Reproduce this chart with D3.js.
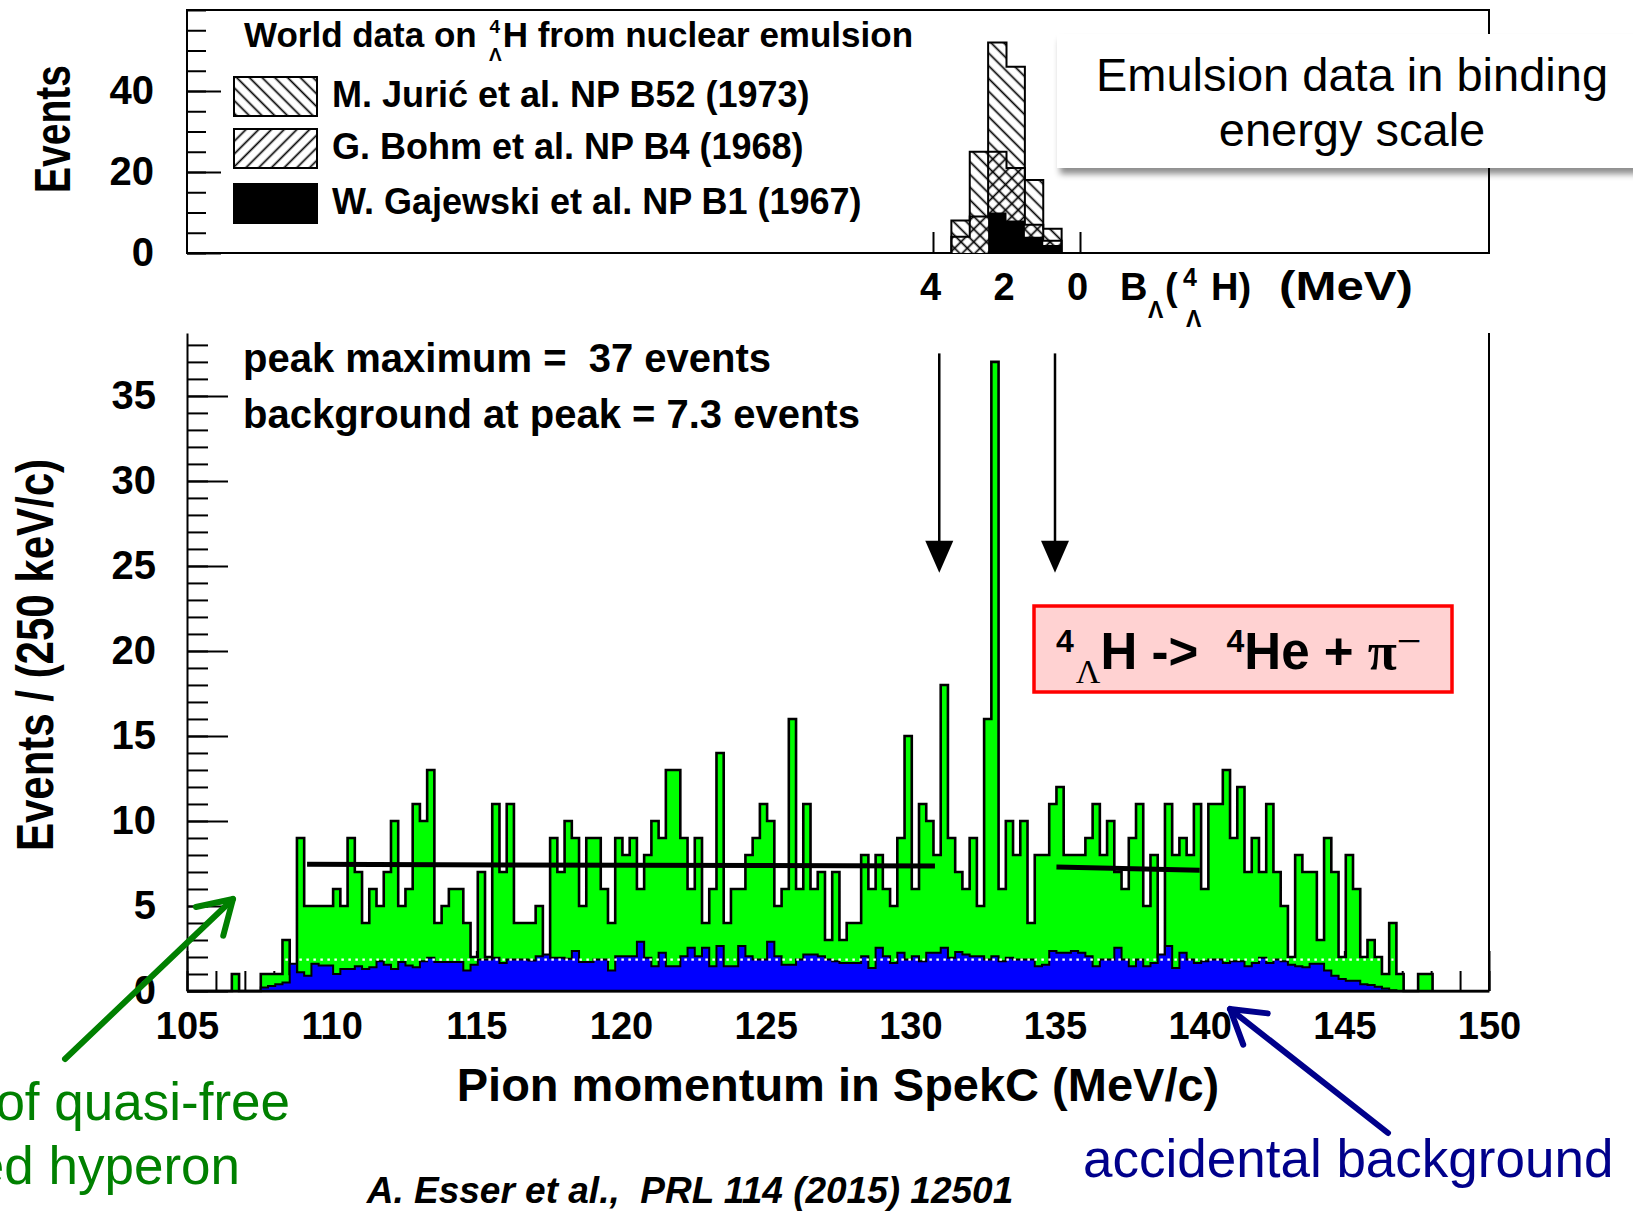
<!DOCTYPE html>
<html>
<head>
<meta charset="utf-8">
<script src="https://cdn.jsdelivr.net/npm/d3@7"></script>
<style>
  html, body { margin: 0; padding: 0; background: #fff; }
  svg { display: block; }
  text { white-space: pre; }
</style>
</head>
<body>
<svg id="chart" width="1633" height="1211"></svg>
<script>
// ---------------- data ----------------
// Pion momentum histogram (0.25 MeV/c bins)
const momentumBinStart = 105.05;
const momentumBinWidth = 0.25;

const eventCounts = [
  0, 0, 0, 0, 0, 0, 1, 0, 0, 0,
  1, 1, 1, 3, 1, 9, 5, 5, 5, 5,
  6, 5, 9, 7, 4, 6, 5, 7, 10, 5,
  6, 11, 10, 13, 4, 5, 6, 6, 4, 2,
  7, 2, 11, 7, 11, 4, 4, 4, 5, 2,
  9, 7, 10, 9, 5, 9, 9, 6, 4, 9,
  8, 9, 6, 8, 10, 9, 13, 13, 9, 6,
  9, 4, 6, 14, 4, 6, 6, 8, 9, 11,
  10, 5, 6, 16, 6, 11, 6, 7, 3, 7,
  3, 4, 4, 8, 6, 8, 6, 5, 9, 15,
  6, 11, 10, 8, 18, 9, 7, 6, 9, 5,
  16, 37, 6, 10, 8, 10, 4, 8, 8, 11,
  12, 8, 8, 8, 9, 11, 8, 10, 7, 6,
  9, 11, 5, 8, 2, 11, 8, 9, 8, 11,
  6, 11, 11, 13, 9, 12, 7, 9, 7, 11,
  7, 5, 2, 8, 7, 7, 3, 9, 7, 2,
  8, 6, 2, 3, 2, 1, 4, 1, 0, 0,
  1, 1
];

const accidentalCounts = [
  0, 0, 0, 0, 0, 0, 0, 0, 0, 0,
  0.2, 0.3, 0.4, 0.5, 1.6, 1.1, 0.9, 1.6, 1.5, 1.5,
  1.0, 1.3, 1.3, 1.45, 1.3, 1.4, 1.75, 1.55, 1.3, 1.7,
  1.5, 1.4, 1.75, 1.95, 1.7, 1.7, 1.7, 1.7, 1.2, 1.55,
  1.85, 1.85, 1.95, 1.65, 1.85, 1.85, 1.85, 1.8, 2.05, 2.15,
  1.95, 1.95, 1.9, 2.35, 1.7, 1.7, 1.85, 1.85, 1.2, 2.05,
  2.05, 2.05, 2.9, 1.95, 1.45, 2.25, 1.45, 1.45, 2.05, 2.55,
  2.05, 2.55, 1.45, 2.65, 1.45, 1.45, 2.65, 2.05, 1.85, 1.85,
  2.9, 2.05, 1.55, 1.55, 1.85, 2.15, 2.15, 2.05, 1.85, 1.75,
  1.65, 1.65, 1.65, 2.05, 1.35, 2.55, 2.05, 1.65, 2.25, 1.85,
  2.05, 1.75, 2.25, 2.25, 2.55, 1.95, 2.3, 2.15, 2.05, 2.05,
  1.85, 2.05, 1.75, 1.95, 1.85, 1.85, 1.85, 1.45, 1.55, 2.35,
  2.25, 2.25, 2.35, 2.25, 2.05, 1.45, 1.85, 1.85, 2.55, 1.85,
  1.45, 1.85, 1.45, 1.65, 2.15, 2.65, 1.35, 2.25, 1.85, 1.65,
  1.75, 1.85, 1.85, 1.65, 1.75, 1.75, 1.45, 1.65, 1.95, 1.65,
  1.85, 1.75, 1.55, 1.45, 1.4, 1.6, 1.6, 1.2, 0.9, 0.7,
  0.6, 0.6, 0.4, 0.35, 0.25, 0.15, 0.05, 0, 0, 0,
  0, 0
];

// flat background fit segments: [momentum, events]
const fitLeft = [[109.15, 7.45], [130.85, 7.35]];
const fitRight = [[135.05, 7.3], [140.0, 7.1]];

// mean accidental level (dotted) and its momentum range
const accidentalLevel = 1.85;
const accidentalRange = [108.4, 146.7];

// window arrows (momentum) and their vertical extent (events)
const windowMomenta = [131.0, 135.0];
const windowArrowSpan = [37.5, 24.6];

// axis ticks
const mainYTicks = [0, 5, 10, 15, 20, 25, 30, 35];
const mainXTicks = [105, 110, 115, 120, 125, 130, 135, 140, 145, 150];

// Emulsion data, binding energy B_Lambda (0.5 MeV bins)
const bindingEdges = [3.5, 3.0, 2.5, 2.0, 1.5, 1.0, 0.5];
const juricCounts = [4, 16, 27, 25, 11, 3];
const bohmCounts = [4, 9, 15, 13, 3, 1];
const gajewskiCounts = [0, 0, 10, 8, 4, 2];
const topYTicks = [0, 20, 40];
const bindingTicks = [4, 2, 0];

const legendLabels = [
  "M. Jurić et al. NP B52 (1973)",
  "G. Bohm et al. NP B4 (1968)",
  "W. Gajewski et al. NP B1 (1967)"
];

// ---------------- setup ----------------
const FONT = "'Liberation Sans', Arial, Helvetica, sans-serif";
const SERIF = "'Liberation Serif', 'Times New Roman', serif";
const svg = d3.select("#chart");
const defs = svg.append("defs");

function hatch(id, angle) {
  const p = defs.append("pattern")
    .attr("id", id)
    .attr("patternUnits", "userSpaceOnUse")
    .attr("width", 9).attr("height", 9)
    .attr("patternTransform", `rotate(${angle})`);
  p.append("line")
    .attr("x1", 4.5).attr("y1", -1).attr("x2", 4.5).attr("y2", 10)
    .attr("stroke", "#000").attr("stroke-width", 1.7);
}
hatch("hatchBack", -45); // "\\\\"
hatch("hatchFwd", 45);   // "////"

const shadow = defs.append("filter").attr("id", "boxShadow")
  .attr("x", "-5%").attr("y", "-10%").attr("width", "115%").attr("height", "140%");
shadow.append("feDropShadow")
  .attr("dx", 3).attr("dy", 6).attr("stdDeviation", 3)
  .attr("flood-color", "#000").attr("flood-opacity", 0.45);

const axisStyle = (g, size) => {
  g.attr("font-size", size).attr("font-family", FONT).attr("font-weight", "bold");
  g.selectAll("line").attr("stroke", "#000").attr("stroke-width", 2);
  g.selectAll("path.domain").attr("stroke", "#000").attr("stroke-width", 2);
  g.selectAll("text").attr("fill", "#000");
};

// step-histogram point list: [edge, value] closed down to zero at both ends
function stepPoints(lefts, values, endEdge) {
  const pts = [[lefts[0], 0]];
  values.forEach((v, i) => pts.push([lefts[i], v]));
  pts.push([endEdge, 0]);
  return pts;
}

// ---------------- main panel ----------------
const x = d3.scaleLinear().domain([105, 150]).range([187, 1489]);
const y = d3.scaleLinear().domain([0, 38.7]).range([991, 333]);

// minor + major ticks (drawn under the histograms)
svg.append("g").attr("transform", `translate(${x(105)},0)`)
  .call(d3.axisLeft(y).tickValues(d3.range(0, 39)).tickSize(-21).tickFormat("").tickSizeOuter(0))
  .call(g => g.select(".domain").remove())
  .call(g => axisStyle(g, 40));
svg.append("g").attr("transform", `translate(${x(105)},0)`)
  .call(d3.axisLeft(y).tickValues(mainYTicks).tickSize(-41).tickPadding(31).tickSizeOuter(0))
  .call(g => axisStyle(g, 40));

svg.append("g").attr("transform", `translate(0,${y(0)})`)
  .call(d3.axisBottom(x).tickValues(d3.range(105, 151)).tickSize(-20).tickFormat("").tickSizeOuter(0))
  .call(g => g.select(".domain").remove())
  .call(g => axisStyle(g, 38));
svg.append("g").attr("transform", `translate(0,${y(0)})`)
  .call(d3.axisBottom(x).tickValues(mainXTicks).tickSize(-40).tickPadding(21).tickSizeOuter(0))
  .call(g => axisStyle(g, 38));

// right frame line
svg.append("line")
  .attr("x1", x(150)).attr("x2", x(150)).attr("y1", y(38.7)).attr("y2", y(0))
  .attr("stroke", "#000").attr("stroke-width", 2);

const lefts = eventCounts.map((_, i) => momentumBinStart + i * momentumBinWidth);
const endEdge = momentumBinStart + eventCounts.length * momentumBinWidth;

const mainArea = d3.area().curve(d3.curveStepAfter)
  .x(d => x(d[0])).y0(y(0)).y1(d => y(d[1]));
const mainLine = d3.line().curve(d3.curveStepAfter)
  .x(d => x(d[0])).y(d => y(d[1]));

const dataPts = stepPoints(lefts, eventCounts, endEdge);
const accPts = stepPoints(lefts, accidentalCounts, endEdge);

svg.append("path").attr("d", mainArea(dataPts)).attr("fill", "#00ff00");
svg.append("path").attr("d", mainLine(dataPts))
  .attr("fill", "none").attr("stroke", "#000").attr("stroke-width", 2.6);

svg.append("path").attr("d", mainArea(accPts)).attr("fill", "#0000ff");
svg.append("path").attr("d", mainLine(accPts))
  .attr("fill", "none").attr("stroke", "#000").attr("stroke-width", 2);

// mean accidental level
svg.append("line")
  .attr("x1", x(accidentalRange[0])).attr("x2", x(accidentalRange[1]))
  .attr("y1", y(accidentalLevel)).attr("y2", y(accidentalLevel))
  .attr("stroke", "#fff").attr("stroke-width", 2.2).attr("stroke-dasharray", "2.5,4.5");

// background fit segments
[fitLeft, fitRight].forEach(seg => {
  svg.append("path")
    .attr("d", d3.line().x(d => x(d[0])).y(d => y(d[1]))(seg))
    .attr("stroke", "#000").attr("stroke-width", 5).attr("fill", "none");
});

// baseline on top
svg.append("line")
  .attr("x1", x(105)).attr("x2", x(150)).attr("y1", y(0)).attr("y2", y(0))
  .attr("stroke", "#000").attr("stroke-width", 2.4);

// window arrows
windowMomenta.forEach(p => {
  const cx = x(p), top = y(windowArrowSpan[0]), tip = y(windowArrowSpan[1]);
  svg.append("line").attr("x1", cx).attr("x2", cx).attr("y1", top).attr("y2", tip - 20)
    .attr("stroke", "#000").attr("stroke-width", 2.5);
  svg.append("path")
    .attr("d", `M${cx - 14},${tip - 32}L${cx + 14},${tip - 32}L${cx},${tip}Z`)
    .attr("fill", "#000");
});

// statistics text
const stats = svg.append("g").attr("font-family", FONT).attr("font-weight", "bold")
  .attr("font-size", 40).attr("fill", "#000");
stats.append("text").attr("x", 243).attr("y", 372).text("peak maximum =  37 events");
stats.append("text").attr("x", 243).attr("y", 428).text("background at peak = 7.3 events");

// axis titles (glyphs slightly stretched across the text line)
svg.append("text")
  .attr("transform", "translate(53,655) rotate(-90) scale(1,1.25)")
  .attr("text-anchor", "middle").attr("font-family", FONT).attr("font-weight", "bold")
  .attr("font-size", 42).text("Events / (250 keV/c)");
svg.append("text")
  .attr("x", 838).attr("y", 1101).attr("text-anchor", "middle")
  .attr("font-family", FONT).attr("font-weight", "bold").attr("font-size", 47)
  .text("Pion momentum in SpekC (MeV/c)");

// reaction box
svg.append("rect").attr("x", 1034).attr("y", 606).attr("width", 418).attr("height", 86)
  .attr("fill", "#ffd2d2").attr("stroke", "#ff0000").attr("stroke-width", 3.5);
const rx = svg.append("text").attr("x", 1056).attr("y", 669)
  .attr("font-family", FONT).attr("font-weight", "bold").attr("font-size", 51).attr("fill", "#000");
rx.append("tspan").attr("font-size", 32).attr("dy", -17).text("4");
rx.append("tspan").attr("font-family", SERIF).attr("font-weight", "normal").attr("font-size", 34).attr("dy", 31).attr("dx", 2).text("Λ");
rx.append("tspan").attr("dy", -14).text("H ->  ");
rx.append("tspan").attr("font-size", 32).attr("dy", -17).text("4");
rx.append("tspan").attr("dy", 17).text("He + ");
rx.append("tspan").attr("font-family", SERIF).attr("font-size", 53).text("π");
rx.append("tspan").attr("font-family", SERIF).attr("font-weight", "normal").attr("font-size", 44).attr("dy", -13).text("−");

// ---------------- top panel (binding energy) ----------------
const xB = d3.scaleLinear().domain([4, 0]).range([933, 1080]);
const yT = d3.scaleLinear().domain([0, 60]).range([253, 10]);

svg.append("g").attr("transform", `translate(${x(105)},0)`)
  .call(d3.axisLeft(yT).tickValues(d3.range(0, 61, 5)).tickSize(-19).tickFormat("").tickSizeOuter(0))
  .call(g => g.select(".domain").remove())
  .call(g => axisStyle(g, 40));
svg.append("g").attr("transform", `translate(${x(105)},0)`)
  .call(d3.axisLeft(yT).tickValues(topYTicks).tickSize(-34).tickPadding(33).tickSizeOuter(0))
  .call(g => g.select(".domain").remove())
  .call(g => axisStyle(g, 40));
svg.append("g").attr("transform", `translate(0,${yT(0)})`)
  .call(d3.axisBottom(xB).tickValues(bindingTicks).tickSize(-21).tickPadding(20)
    .tickFormat(d3.format("d")).tickSizeOuter(0))
  .call(g => g.select(".domain").remove())
  .call(g => axisStyle(g, 38))
  .call(g => g.selectAll("text").attr("dx", -3));

svg.append("rect")
  .attr("x", x(105)).attr("y", yT(60)).attr("width", x(150) - x(105)).attr("height", yT(0) - yT(60))
  .attr("fill", "none").attr("stroke", "#000").attr("stroke-width", 2);

// stacked layers: total, Bohm+Gajewski, Gajewski
const bLefts = bindingEdges.slice(0, -1);
const bEnd = bindingEdges[bindingEdges.length - 1];
const totalCounts = juricCounts.map((v, i) => v + bohmCounts[i] + gajewskiCounts[i]);
const lowerCounts = bohmCounts.map((v, i) => v + gajewskiCounts[i]);

const topArea = d3.area().curve(d3.curveStepAfter)
  .x(d => xB(d[0])).y0(yT(0)).y1(d => yT(d[1]));
const topLine = d3.line().curve(d3.curveStepAfter)
  .x(d => xB(d[0])).y(d => yT(d[1]));

const totalPts = stepPoints(bLefts, totalCounts, bEnd);
const lowerPts = stepPoints(bLefts, lowerCounts, bEnd);
const gajPts = stepPoints(bLefts, gajewskiCounts, bEnd);

svg.append("path").attr("d", topArea(totalPts)).attr("fill", "#fff");
svg.append("path").attr("d", topArea(totalPts)).attr("fill", "url(#hatchBack)");
svg.append("path").attr("d", topLine(totalPts)).attr("fill", "none").attr("stroke", "#000").attr("stroke-width", 2);
svg.append("path").attr("d", topArea(lowerPts)).attr("fill", "url(#hatchFwd)");
svg.append("path").attr("d", topLine(lowerPts)).attr("fill", "none").attr("stroke", "#000").attr("stroke-width", 2);
svg.append("path").attr("d", topArea(gajPts)).attr("fill", "#000");

// legend
const lg = svg.append("g").attr("font-family", FONT).attr("font-weight", "bold").attr("fill", "#000");
const head = lg.append("text").attr("x", 244).attr("y", 47).attr("font-size", 35);
head.append("tspan").text("World data on ");
head.append("tspan").attr("font-size", 19).attr("dx", 3).attr("dy", -14).text("4");
head.append("tspan").attr("font-size", 19).attr("dx", -11).attr("dy", 28).text("Λ");
head.append("tspan").attr("dx", 1).attr("dy", -14).text("H from nuclear emulsion");

const legendFills = ["url(#hatchBack)", "url(#hatchFwd)", "#000"];
const legendRows = [77, 129, 184];
legendLabels.forEach((label, i) => {
  lg.append("rect").attr("x", 234).attr("y", legendRows[i]).attr("width", 83).attr("height", 39)
    .attr("fill", "#fff").attr("stroke", "none");
  lg.append("rect").attr("x", 234).attr("y", legendRows[i]).attr("width", 83).attr("height", 39)
    .attr("fill", legendFills[i]).attr("stroke", "#000").attr("stroke-width", 2);
  lg.append("text").attr("x", 332).attr("y", legendRows[i] + 30).attr("font-size", 36).text(label);
});

// binding energy axis title
const bt = svg.append("g").attr("font-family", FONT).attr("font-weight", "bold").attr("fill", "#000");
bt.append("text").attr("x", 1120).attr("y", 300).attr("font-size", 38).text("B");
bt.append("text").attr("x", 1148).attr("y", 318).attr("font-size", 23).text("Λ");
bt.append("text").attr("x", 1165).attr("y", 300).attr("font-size", 38).text("(");
bt.append("text").attr("x", 1183).attr("y", 286).attr("font-size", 25).text("4");
bt.append("text").attr("x", 1186).attr("y", 327).attr("font-size", 23).text("Λ");
bt.append("text").attr("x", 1211).attr("y", 300).attr("font-size", 38).text("H)");
bt.append("text").attr("x", 1279).attr("y", 300).attr("font-size", 40)
  .attr("textLength", 134).attr("lengthAdjust", "spacingAndGlyphs").text("(MeV)");

// y title of top panel
svg.append("text")
  .attr("transform", "translate(70,129) rotate(-90) scale(1,1.28)")
  .attr("text-anchor", "middle").attr("font-family", FONT).attr("font-weight", "bold")
  .attr("font-size", 39).text("Events");

// note box
svg.append("rect").attr("x", 1057).attr("y", 34).attr("width", 600).attr("height", 134)
  .attr("fill", "#fff").attr("filter", "url(#boxShadow)");
const note = svg.append("g").attr("font-family", FONT).attr("font-size", 47).attr("fill", "#000")
  .attr("text-anchor", "middle");
note.append("text").attr("x", 1352).attr("y", 91).text("Emulsion data in binding");
note.append("text").attr("x", 1352).attr("y", 146).text("energy scale");

// ---------------- annotations ----------------
function arrow(x0, y0, x1, y1, color) {
  const g = svg.append("g").attr("stroke", color).attr("stroke-width", 6)
    .attr("fill", "none").attr("stroke-linecap", "round").attr("stroke-linejoin", "round");
  g.append("line").attr("x1", x0).attr("y1", y0).attr("x2", x1).attr("y2", y1);
  const a = Math.atan2(y0 - y1, x0 - x1), len = 38, spread = 0.55;
  g.append("path").attr("d",
    `M${x1 + len * Math.cos(a + spread)},${y1 + len * Math.sin(a + spread)}` +
    `L${x1},${y1}L${x1 + len * Math.cos(a - spread)},${y1 + len * Math.sin(a - spread)}`);
}
arrow(65, 1059, 233, 899, "#008000");
arrow(1388, 1133, 1230, 1009, "#00008b");

// green note runs off the left edge of the slide
const green = svg.append("g").attr("font-family", FONT).attr("font-size", 53)
  .attr("fill", "#008000").attr("text-anchor", "end");
green.append("text").attr("x", 290).attr("y", 1120).text("Decay of quasi-free");
green.append("text").attr("x", 240).attr("y", 1184).text("produced hyperon");

svg.append("text").attr("x", 1083).attr("y", 1177)
  .attr("font-family", FONT).attr("font-size", 53).attr("fill", "#00008b")
  .text("accidental background");

svg.append("text").attr("x", 690).attr("y", 1203).attr("text-anchor", "middle")
  .attr("font-family", FONT).attr("font-weight", "bold").attr("font-style", "italic")
  .attr("font-size", 37).attr("fill", "#000")
  .text("A. Esser et al.,  PRL 114 (2015) 12501");
</script>
</body>
</html>
